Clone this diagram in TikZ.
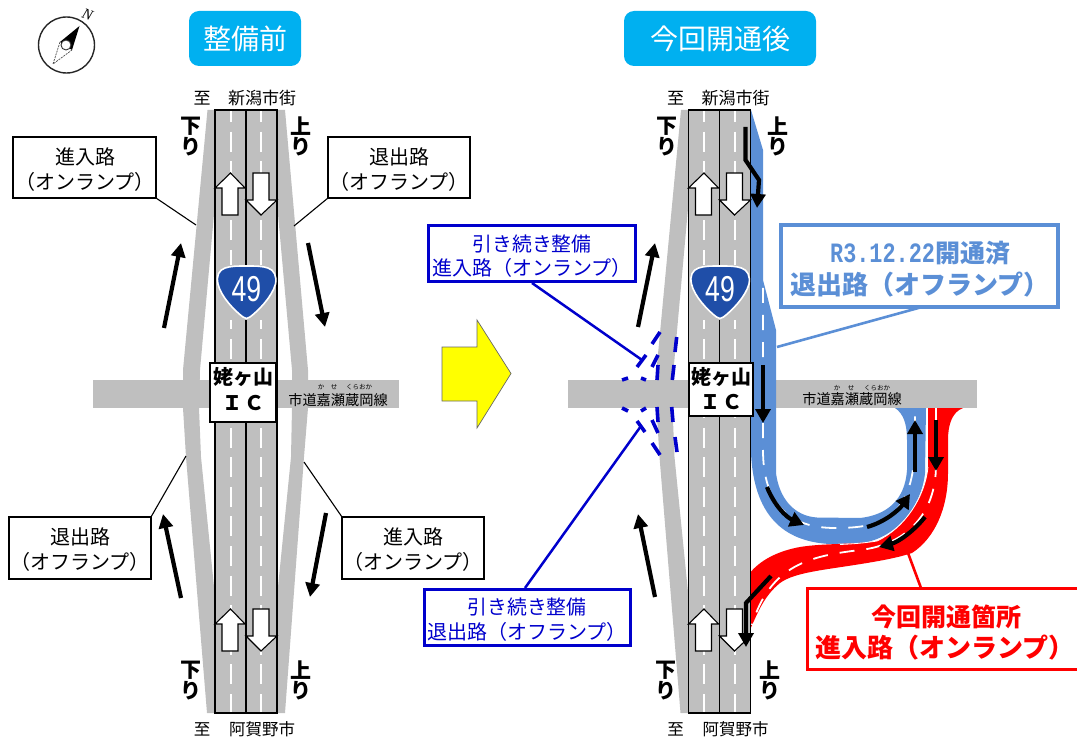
\documentclass[tikz,border=0pt]{standalone}
\usepackage{fontspec}
\setmainfont{Noto Sans CJK JP}
\newfontfamily\monofam{Liberation Mono}
\newfontfamily\latinfam{Liberation Sans}
\newfontfamily\serfam{Liberation Serif}
\usetikzlibrary{arrows.meta,calc}
\definecolor{roadgray}{HTML}{BFBFBF}
\definecolor{skyblue}{HTML}{00B0F0}
\definecolor{rampblue}{HTML}{5B8FD6}
\definecolor{deepblue}{HTML}{0000CC}
\definecolor{shieldblue}{HTML}{1F4EA8}
\definecolor{pureyellow}{RGB}{255,255,0}
\definecolor{purered}{RGB}{255,0,0}
\tikzset{
  x=1pt,y=-1pt,
  lbl/.style={inner sep=0pt,outer sep=0pt,align=center},
  fs/.style={font=\fontsize{#1}{#1}\selectfont},
  fsb/.style={font=\fontsize{#1}{#1}\selectfont\bfseries},
  bigarrow/.style={line width=4.2pt,-{Triangle[length=14pt,width=14pt]},black},
  curvearrow/.style={line width=4.2pt,-{Triangle[length=14pt,width=15pt]},black},
  lanearrow/.style={fill=white,draw=black,line width=1.1pt,line join=miter},
  whitedash/.style={draw=white,line width=2pt,dash pattern=on 20pt off 9.6pt,dash phase=8pt},
  rampdash/.style={draw=white,line width=1.8pt,dash pattern=on 15pt off 12pt},
  blackbox/.style={draw=black,line width=1.2pt,fill=white,inner sep=0pt,outer sep=0pt},
  leader/.style={line width=1.1pt,draw=black},
  bluedash/.style={draw=deepblue,line width=3.6pt},
  titlebox/.style={fill=skyblue,rounded corners=10pt,inner sep=0pt,outer sep=0pt},
}
\newcommand{\MainRoad}{%
  \fill[roadgray] (215,110) rectangle (277,713);
  \draw[whitedash] (230.5,110) -- (230.5,713);
  \draw[whitedash] (261,110) -- (261,713);
  \draw[black,line width=1.1pt] (215,110) -- (277,110) -- (277,713) -- (215,713) -- cycle;
  \draw[black,line width=1.1pt] (246,110) -- (246,713);
  \fill[roadgray] (218,265) rectangle (275,320);
  \foreach \dy in {0,436}{
    \draw[lanearrow,yshift=-\dy pt] (230.5,173) -- (245,188) -- (238,188) -- (238,215) -- (222,215) -- (222,188) -- (215,188) -- cycle;
    \draw[lanearrow,yshift=-\dy pt] (253,173) -- (269,173) -- (269,200) -- (277,200) -- (261,215) -- (246,200) -- (253,200) -- cycle;
  }
  \draw[fill=shieldblue,draw=white,line width=1.6pt]
    (246.5,266) .. controls (256,266) and (262,266) .. (268,268)
    .. controls (274,270) and (277,276) .. (275.5,284)
    .. controls (272,297) and (258,311) .. (250,317)
    .. controls (248,319) and (245,319) .. (243,317)
    .. controls (235,311) and (221,297) .. (218,284)
    .. controls (216,276) and (219,270) .. (225,268)
    .. controls (231,266) and (237,266) .. (246.5,266) -- cycle;
  \node[lbl,text=white,font=\latinfam\fontsize{36}{36}\selectfont,xscale=0.74] at (246.5,289.5) {49};
}
\newcommand{\LeftRamp}{%
  \fill[roadgray] (207.5,110) -- (215,110) -- (215,203) -- (200,370) -- (199,408) -- (201,457) -- (215,597) -- (215,713) -- (207,713) -- (186,457) -- (183,408) -- (183,370) -- cycle;
}
\newcommand{\RoadWords}{%
  \node[lbl,fs=17] at (202,98) {至};
  \node[lbl,fs=17] at (262,98) {新潟市街};
  \node[lbl,fs=16.5] at (202,729) {至};
  \node[lbl,fs=16.5] at (262,729) {阿賀野市};
}
\newcommand{\VertPair}[3]{%
  \node[lbl,fsb=21] at (#1,#2) {#3};
  \node[lbl,fsb=21] at (#1,#2+21) {り};
}
\begin{document}
\begin{tikzpicture}
\useasboundingbox (0,0) rectangle (1077,738);

% compass
\draw[black!85,line width=1.4pt] (66.5,45) circle (28);
\fill[black] (79.5,26) -- (72,50) -- (60,42) -- cycle;
\draw[black!70,line width=0.7pt,dash pattern=on 2pt off 1pt] (60,42) -- (53,64) -- (72,50);
\draw[black!80,fill=white,line width=0.9pt] (66,45) circle (5);
\node[lbl,font=\serfam\itshape\fontsize{15}{15}\selectfont,rotate=-20] at (87.5,15) {N};

% titles
\node[titlebox,minimum width=112,minimum height=55,text=white,fs=28] (titleA) at (245,38.5) {整備前};
\node[titlebox,minimum width=192,minimum height=55,text=white,fs=28] (titleB) at (720,38.5) {今回開通後};

% LEFT diagram
\fill[roadgray] (93,380) rectangle (399,408);
\LeftRamp
\fill[roadgray] (277,110) -- (285,110) -- (308,370) -- (308,408) -- (304,457) -- (285,713) -- (277,713) -- (277,597) -- (291,457) -- (292,408) -- (292,370) -- (277,203) -- cycle;
\MainRoad
\node[blackbox,line width=1.7pt,minimum width=66,minimum height=59] (icA) at (243,392.5) {};
\node[lbl,fsb=20] at (243,377) {姥ヶ山};
\node[lbl,fsb=20] at (243,403) {Ｉ\hspace{2pt}Ｃ};
\RoadWords
\VertPair{191}{126}{下}
\VertPair{300.5}{126}{上}
\VertPair{190.5}{670}{下}
\VertPair{300.5}{670}{上}
\node[lbl,fs=14.2] at (338,400) {市道嘉瀬蔵岡線};
\node[lbl,fs=6.5] at (321,387) {か};
\node[lbl,fs=6.5] at (334,387) {せ};
\node[lbl,fs=6.5] at (359,387) {くらおか};

\draw[bigarrow] (164,328) -- (181,243);
\draw[bigarrow] (308,243) -- (325,327);
\draw[bigarrow] (181,598) -- (163,514);
\draw[bigarrow] (326,513) -- (310,597);

\node[blackbox,minimum width=143,minimum height=61] (boxA) at (84.5,167.5) {};
\node[lbl,fs=20] at (85,157) {進入路};
\node[lbl,fs=20] at (85,182) {（オンランプ）};
\node[blackbox,minimum width=142,minimum height=61] (boxB) at (399,167.5) {};
\node[lbl,fs=20] at (399,157) {退出路};
\node[lbl,fs=20] at (399,182) {（オフランプ）};
\node[blackbox,minimum width=142,minimum height=62] (boxC) at (80,548) {};
\node[lbl,fs=20] at (80,537) {退出路};
\node[lbl,fs=20] at (80,562) {（オフランプ）};
\node[blackbox,minimum width=142,minimum height=62] (boxD) at (413,548) {};
\node[lbl,fs=20] at (413,537) {進入路};
\node[lbl,fs=20] at (413,562) {（オンランプ）};
\coordinate (endA) at (196,225);
\coordinate (endB) at (294,226);
\coordinate (endC) at (186,456);
\coordinate (endD) at (304,462);
\draw[leader] (boxA.south east) -- (endA);
\draw[leader] (boxB.south west) -- (endB);
\draw[leader] (boxC.north east) -- (endC);
\draw[leader] (boxD.north west) -- (endD);

% yellow arrow
\draw[fill=pureyellow,draw=black!60,line width=0.7pt] (442,347) -- (477,347) -- (477,320) -- (511,373.5) -- (477,428) -- (477,401) -- (442,401) -- cycle;

% RIGHT diagram
\fill[roadgray] (568,380) rectangle (977,408);
\begin{scope}[xshift=473.5pt]\LeftRamp\end{scope}

% dashed planned ramps
\foreach \a/\b in {676.7/337,674/365}{\draw[bluedash] (\a,\b) -- ++(-1.7,15);}
\draw[bluedash] (671.7,407) -- (673,422);
\draw[bluedash] (675,437) -- (677,452);
\draw[bluedash] (660,332) -- (652,344);
\draw[bluedash] (658,355) -- (652,367);
\draw[bluedash] (658,365) -- (657,380);
\draw[bluedash] (657,407) -- (658,422);
\draw[bluedash] (652,420) -- (658,433);
\draw[bluedash] (652,443) -- (660,455);
\draw[bluedash] (622,380) -- (628,378);
\draw[bluedash] (641,378) -- (646,380);
\draw[bluedash] (622,408) -- (628,411);
\draw[bluedash] (641,411) -- (646,408);

% blue ramp
\fill[rampblue] (751,110) -- (763,150) -- (763,280) -- (776,330) -- (776,473)
  .. controls (779,497) and (793,516) .. (817,517.5) -- (860,518)
  .. controls (887,515) and (905,500) .. (907,470) -- (907,440)
  .. controls (907,425) and (904,414) .. (895,408) -- (926,408) -- (925,473)
  .. controls (922,505) and (897,538) .. (862,543) -- (830,544)
  .. controls (790,542) and (754,522) .. (751,453) -- cycle;
% red ramp
\fill[purered] (928,408) -- (928,467)
  .. controls (925,497) and (905,528) .. (877,541)
  .. controls (850,545) and (825,543) .. (800,547)
  .. controls (778,551) and (760,560) .. (749,574)
  -- (749,632) .. controls (758,612) and (764,596) .. (780,583)
  .. controls (795,572) and (825,570) .. (867,563)
  .. controls (885,560) and (900,557) .. (912,553)
  .. controls (935,538) and (948,508) .. (948,473)
  -- (948,440) .. controls (948,425) and (952,412) .. (963,408) -- cycle;
\draw[white,line width=0.8pt] (928,467)
  .. controls (925,497) and (905,528) .. (877,541)
  .. controls (865,543) and (852,544) .. (840,544.5);
% ramp centre lines
\draw[rampdash] (763,288) -- (763,450) .. controls (763,505) and (790,528) .. (835,528)
  .. controls (880,528) and (915,520) .. (915,440) -- (915,408);
\draw[rampdash] (936,408) -- (936,465) .. controls (936,515) and (905,545) .. (860,550)
  .. controls (810,556) and (770,565) .. (752,625);

\begin{scope}[xshift=473.5pt]\MainRoad\RoadWords\end{scope}
\node[blackbox,line width=1.7pt,minimum width=64,minimum height=53] (icB) at (721,389.5) {};
\node[lbl,fsb=20] at (721,377) {姥ヶ山};
\node[lbl,fsb=20] at (721,402) {Ｉ\hspace{2pt}Ｃ};
\VertPair{667}{126}{下}
\VertPair{777.5}{126}{上}
\VertPair{666}{670}{下}
\VertPair{770}{670}{上}
\node[lbl,fs=14.2] at (852,399) {市道嘉瀬蔵岡線};
\node[lbl,fs=6.5] at (837,388) {か};
\node[lbl,fs=6.5] at (851,388) {せ};
\node[lbl,fs=6.5] at (877,388) {くらおか};

% black arrows
\draw[bigarrow] (638,327) -- (655,243);
\draw[bigarrow] (655,597) -- (638,514);
\draw[curvearrow] (745.5,127) -- (745.5,160) -- (759,180) -- (757,208);
\draw[curvearrow] (763,365) -- (763,423);
\draw[curvearrow] (767,487) .. controls (774,505) and (786,517) .. (804,525);
\draw[curvearrow] (867,527) .. controls (885,522) and (899,510) .. (910,494);
\draw[curvearrow] (915,472) -- (915,420);
\draw[curvearrow] (936,420) -- (936,471);
\draw[curvearrow] (925,517) .. controls (913,532) and (898,542) .. (879,547);
\draw[curvearrow] (771,576) -- (746,603) -- (746,647);

% blue boxes
\node[draw=deepblue,line width=3pt,fill=white,inner sep=0pt,outer sep=0pt,minimum width=207,minimum height=56] (boxE) at (532,254) {};
\node[lbl,text=deepblue,fs=19.8] at (532,244) {引き続き整備};
\node[lbl,text=deepblue,fs=20] at (532,268) {進入路（オンランプ）};
\node[draw=deepblue,line width=3pt,fill=white,inner sep=0pt,outer sep=0pt,minimum width=206,minimum height=56] (boxF) at (527.5,617.5) {};
\node[lbl,text=deepblue,fs=19.8] at (527,607) {引き続き整備};
\node[lbl,text=deepblue,fs=20] at (527,632) {退出路（オフランプ）};
\coordinate (startE) at (532,283);
\coordinate (endE) at (642,360);
\coordinate (startF) at (525,588);
\coordinate (endF) at (641,426);
\draw[deepblue,line width=2.5pt] (startE) -- (endE);
\draw[deepblue,line width=2.5pt] (startF) -- (endF);
\draw[bluedash] (637,367) -- (646,355);
\draw[bluedash] (637,421) -- (645,432);

% light-blue box
\node[draw=rampblue,line width=3.3pt,fill=white,inner sep=0pt,outer sep=0pt,minimum width=277,minimum height=82] (boxG) at (919.5,266) {};
\node[lbl,text=rampblue,anchor=east,font=\monofam\bfseries\fontsize{28}{28}\selectfont,xscale=0.78] at (935,253) {R3.12.22};
\node[lbl,text=rampblue,anchor=west,fsb=25] at (935,253) {開通済};
\node[lbl,text=rampblue,fsb=26] at (920,285) {退出路（オフランプ）};
\coordinate (startG) at (922,307);
\coordinate (endG) at (777,347);
\draw[rampblue,line width=2.6pt] (startG) -- (endG);

% red box (runs off the right edge)
\coordinate (redTR) at (1077,588);
\coordinate (redTL) at (807,588);
\coordinate (redBL) at (807,669);
\coordinate (redBR) at (1077,669);
\draw[purered,line width=3pt] (redTR) -- (redTL) -- (redBL) -- (redBR);
\node[lbl,text=purered,fsb=25] at (946,617) {今回開通箇所};
\node[lbl,text=purered,fsb=26] at (945,648) {進入路（オンランプ）};
\coordinate (startH) at (908,553);
\coordinate (endH) at (921,588);
\draw[purered,line width=2.6pt] (startH) -- (endH);
\end{tikzpicture}
\end{document}
